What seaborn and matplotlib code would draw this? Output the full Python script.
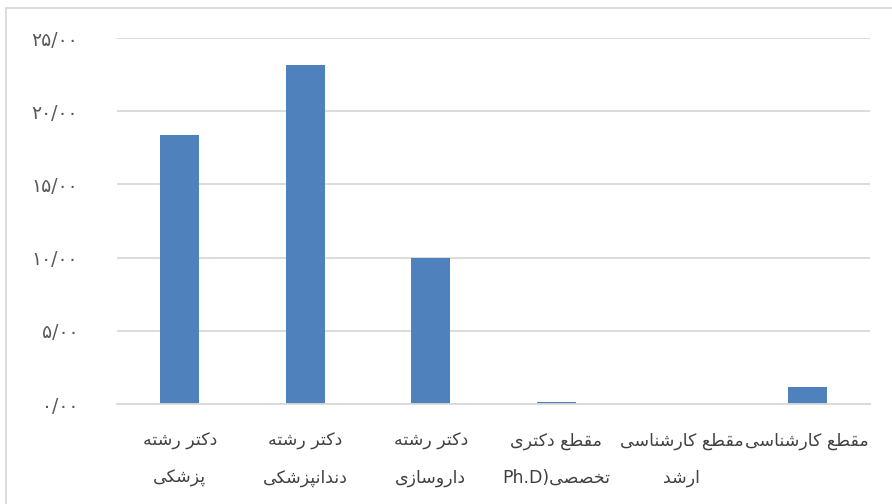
import re
import matplotlib
matplotlib.use("Agg")
import matplotlib.pyplot as plt
import seaborn as sns
import pandas as pd
from matplotlib.patches import Rectangle

# ---- data ----
categories = ["دکتر رشته پزشکی", "دکتر رشته دندانپزشکی", "دکتر رشته داروسازی",
              "مقطع دکتری تخصصی(Ph.D", "مقطع کارشناسی ارشد", "مقطع کارشناسی"]
values = [18.4, 23.17, 10.0, 0.16, 0.0, 1.16]
yticks = [0, 5, 10, 15, 20, 25]

# ---- minimal Arabic/Persian shaping (matplotlib has no complex text layout) ----
FORMS = {  # isolated, final, initial, medial
    'ا': (0xFE8D, 0xFE8E, None, None),
    'د': (0xFEA9, 0xFEAA, None, None),
    'ر': (0xFEAD, 0xFEAE, None, None),
    'ز': (0xFEAF, 0xFEB0, None, None),
    'و': (0xFEED, 0xFEEE, None, None),
    'ب': (0xFE8F, 0xFE90, 0xFE91, 0xFE92),
    'ت': (0xFE95, 0xFE96, 0xFE97, 0xFE98),
    'خ': (0xFEA5, 0xFEA6, 0xFEA7, 0xFEA8),
    'س': (0xFEB1, 0xFEB2, 0xFEB3, 0xFEB4),
    'ش': (0xFEB5, 0xFEB6, 0xFEB7, 0xFEB8),
    'ص': (0xFEB9, 0xFEBA, 0xFEBB, 0xFEBC),
    'ط': (0xFEC1, 0xFEC2, 0xFEC3, 0xFEC4),
    'ع': (0xFEC9, 0xFECA, 0xFECB, 0xFECC),
    'ق': (0xFED5, 0xFED6, 0xFED7, 0xFED8),
    'م': (0xFEE1, 0xFEE2, 0xFEE3, 0xFEE4),
    'ن': (0xFEE5, 0xFEE6, 0xFEE7, 0xFEE8),
    'ه': (0xFEE9, 0xFEEA, 0xFEEB, 0xFEEC),
    'ی': (0xFBFC, 0xFBFD, 0xFBFE, 0xFBFF),
    'ک': (0xFB8E, 0xFB8F, 0xFB90, 0xFB91),
    'پ': (0xFB56, 0xFB57, 0xFB58, 0xFB59),
}


def shape(text):
    out = []
    n = len(text)
    for i, ch in enumerate(text):
        if ch not in FORMS:
            out.append(ch)
            continue
        f = FORMS[ch]
        prev = text[i - 1] if i > 0 else None
        nxt = text[i + 1] if i < n - 1 else None
        jp = prev in FORMS and FORMS[prev][2] is not None
        jn = f[2] is not None and nxt in FORMS
        if jp and jn:
            c = f[3]
        elif jp:
            c = f[1]
        elif jn:
            c = f[2]
        else:
            c = f[0]
        out.append(chr(c))
    return ''.join(out)


MIRROR = {'(': ')', ')': '('}


def visual(line):
    shaped = shape(line)
    runs = re.findall(r'[A-Za-z0-9.]+|[^A-Za-z0-9.]+', shaped)
    vis = []
    for r in reversed(runs):
        if re.match(r'[A-Za-z0-9.]', r):
            vis.append(r)
        else:
            vis.append(''.join(MIRROR.get(c, c) for c in reversed(r)))
    return ''.join(vis)


def wrap_label(text):
    words = text.split(' ')
    lines = [' '.join(words[:2])]
    if len(words) > 2:
        lines.append(' '.join(words[2:]))
    return '\n'.join(visual(l) for l in lines)


PERSIAN_DIGITS = str.maketrans('0123456789', '۰۱۲۳۴۵۶۷۸۹')


def fa_num(v):
    return f"{v:.2f}".replace('.', '/').translate(PERSIAN_DIGITS)


# ---- plot ----
sns.set_style("white")
plt.rcParams['font.family'] = ['DejaVu Sans']

fig = plt.figure(figsize=(8.92, 5.04), dpi=100)
ax = fig.add_axes([117 / 892, 100 / 504, 753 / 892, 366 / 504])

labels = [wrap_label(c) for c in categories]
df = pd.DataFrame({'cat': labels, 'val': values})
sns.barplot(data=df, x='cat', y='val', order=labels, color='#4F81BD',
            saturation=1, width=0.31, edgecolor='none', ax=ax)

ax.set_xlim(-0.5, 5.5)
ax.set_ylim(0, 25)
ax.set_yticks(yticks)
ax.set_yticklabels([fa_num(v) for v in yticks], fontsize=13.5, color='#595959')
ax.set_xticks(range(len(labels)))
ax.set_xticklabels(labels, fontsize=12.5, color='#404040', linespacing=2.35)
ax.set_xlabel('')
ax.set_ylabel('')
ax.grid(axis='y', color='#D9D9D9', linewidth=1.3)
ax.grid(axis='x', visible=False)
ax.set_axisbelow(True)
for s in ['left', 'right', 'top']:
    ax.spines[s].set_visible(False)
ax.spines['bottom'].set_color('#D9D9D9')
ax.spines['bottom'].set_linewidth(1.3)
ax.tick_params(axis='y', length=0, pad=28)
ax.tick_params(axis='x', length=0, pad=20)

fig.patches.append(Rectangle((6 / 892, -0.05), 1.0, (504 - 8) / 504 + 0.05,
                             transform=fig.transFigure, fill=False,
                             edgecolor='#D9D9D9', linewidth=1.3))

fig.savefig('out.png', dpi=100)
